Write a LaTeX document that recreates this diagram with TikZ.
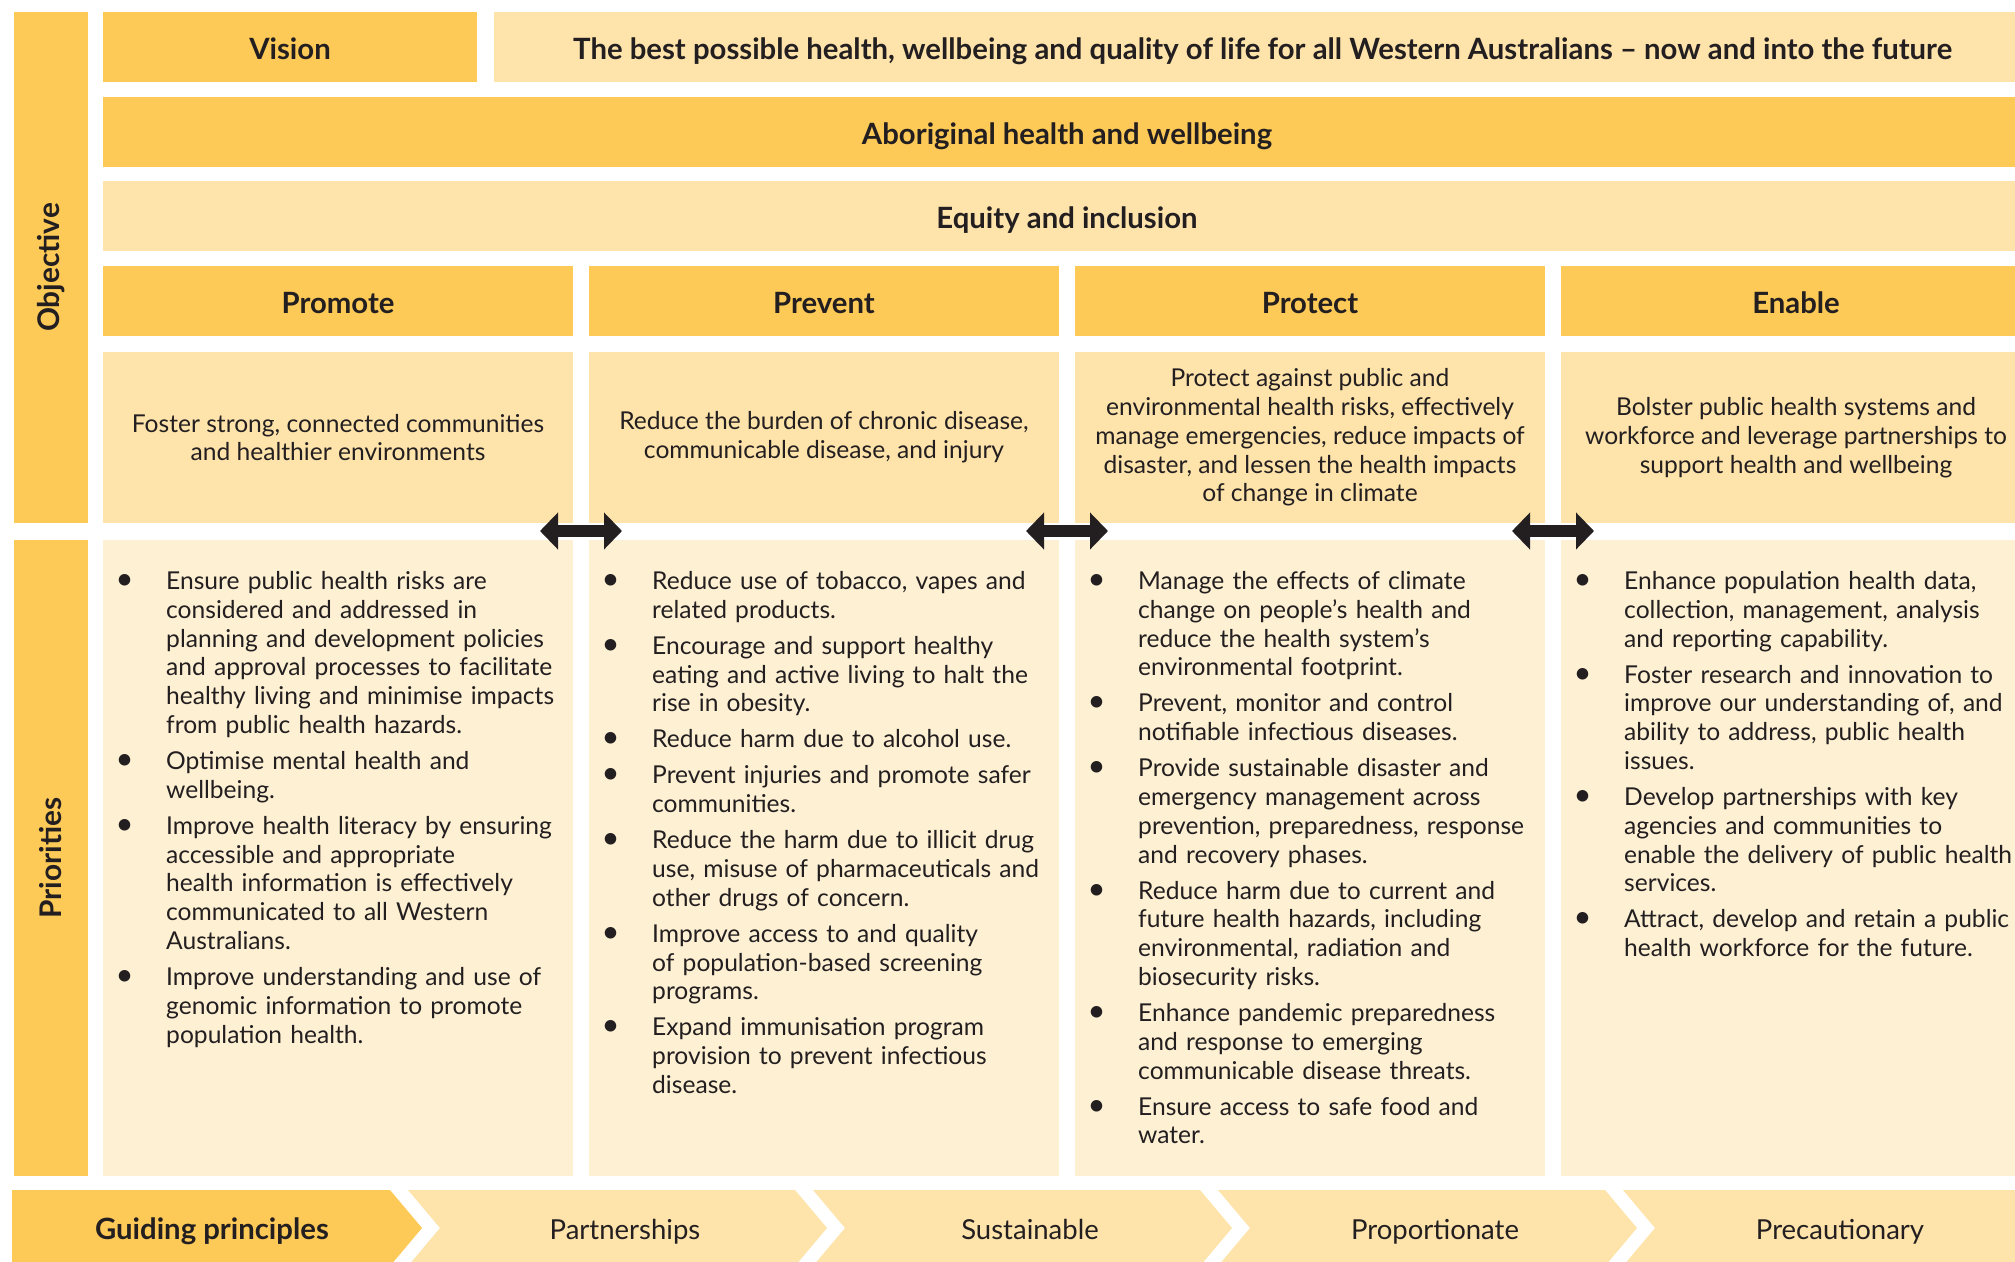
\documentclass[tikz,border=0pt]{standalone}
\usepackage{fontspec}
\setmainfont{Lato}
\usetikzlibrary{arrows.meta}
\definecolor{dk}{HTML}{FDC957}
\definecolor{md}{HTML}{FEE3AB}
\definecolor{lt}{HTML}{FEF0D3}
\definecolor{ink}{HTML}{231F20}
\newcommand{\mybul}{\makebox[0pt][c]{\fontsize{31}{31}\selectfont\textbullet}}
\newenvironment{blist}{\begin{list}{\mybul}{%
 \setlength{\leftmargin}{41.5pt}\setlength{\labelwidth}{0pt}\setlength{\labelsep}{41.5pt}%
 \setlength{\itemsep}{7.2pt}\setlength{\parsep}{0pt}\setlength{\topsep}{0pt}%
 \setlength{\partopsep}{0pt}\setlength{\itemindent}{0pt}\setlength{\listparindent}{0pt}}}%
 {\end{list}}
\begin{document}
\begin{tikzpicture}[x=1pt,y=-1pt,
  box/.style={anchor=north west, inner sep=0pt, outer sep=0pt, text=ink},
  dkbox/.style={box, fill=dk},
  mdbox/.style={box, fill=md},
  ltbox/.style={box, fill=lt},
  hfont/.style={font=\bfseries\fontsize{29.3}{34}\selectfont, text height=24pt, text depth=0pt},
  rfont/.style={font=\fontsize{24.6}{28.8}\selectfont},
  head/.style={dkbox, hfont, minimum width=470pt, minimum height=70pt},
  desc/.style={mdbox, rfont, align=center, minimum width=470pt, minimum height=171pt},
  prio/.style={ltbox, minimum width=470pt, minimum height=636pt},
  plist/.style={anchor=north west, inner sep=0pt, text=ink, rfont, text width=460pt, align=left},
  vlab/.style={rotate=90, text=ink, font=\bfseries\fontsize{29.8}{34}\selectfont},
  arr/.style={draw=ink, line width=12pt, {Triangle[length=18pt,width=36pt]}-{Triangle[length=18pt,width=36pt]}},
  chev/.style={text=ink, anchor=base, font=\fontsize{27.5}{32}\selectfont}
]
\useasboundingbox (0,0) rectangle (2015,1261);
\clip (0,0) rectangle (2015,1261);

% left bars
\node[dkbox, minimum width=73.5pt, minimum height=511pt] (objbar) at (14,12) {};
\node[vlab] (objlab) at (objbar.center) {Objective};
\node[dkbox, minimum width=73.5pt, minimum height=636pt] (priobar) at (14,540) {};
\node[vlab] (priolab) at (priobar.center) {Priorities};

% top rows
\node[dkbox, hfont, minimum width=374pt, minimum height=70pt] (vision) at (103,12) {Vision};
\node[mdbox, hfont, minimum width=1537pt, minimum height=70pt] (statement) at (494,12) {The best possible health, wellbeing and quality of life for all Western Australians – now and into the future};
\node[dkbox, hfont, minimum width=1928pt, minimum height=70pt] (abor) at (103,97) {Aboriginal health and wellbeing};
\node[mdbox, hfont, minimum width=1928pt, minimum height=70pt] (equity) at (103,181) {Equity and inclusion};

% headers
\node[head] (hpromote) at (103,266) {Promote};
\node[head] (hprevent) at (589,266) {Prevent};
\node[head] (hprotect) at (1075,266) {Protect};
\node[head] (henable) at (1561,266) {Enable};

% descriptions
\node[desc] (dpromote) at (103,352) {Foster strong, connected communities\\and healthier environments};
\node[desc] (dprevent) at (589,352) {Reduce the burden of chronic disease,\\communicable disease, and injury};
\node[desc] (dprotect) at (1075,352) {Protect against public and\\environmental health risks, effectively\\manage emergencies, reduce impacts of\\disaster, and lessen the health impacts\\of change in climate};
\node[desc] (denable) at (1561,352) {Bolster public health systems and\\workforce and leverage partnerships to\\support health and wellbeing};

% priorities boxes
\node[prio] (ppromote) at (103,540) {};
\node[prio] (pprevent) at (589,540) {};
\node[prio] (pprotect) at (1075,540) {};
\node[prio] (penable) at (1561,540) {};

\node[plist] (lpromote) at (124.5,560.5) {\begin{blist}
\item Ensure public health risks are\\considered and addressed in\\planning and development policies\\and approval processes to facilitate\\healthy living and minimise impacts\\from public health hazards.
\item Optimise mental health and\\wellbeing.
\item Improve health literacy by ensuring\\accessible and appropriate\\health information is effectively\\communicated to all Western\\Australians.
\item Improve understanding and use of\\genomic information to promote\\population health.
\end{blist}};

\node[plist] (lprevent) at (610.5,560.5) {\begin{blist}
\item Reduce use of tobacco, vapes and\\related products.
\item Encourage and support healthy\\eating and active living to halt the\\rise in obesity.
\item Reduce harm due to alcohol use.
\item Prevent injuries and promote safer\\communities.
\item Reduce the harm due to illicit drug\\use, misuse of pharmaceuticals and\\other drugs of concern.
\item Improve access to and quality\\of population-based screening\\programs.
\item Expand immunisation program\\provision to prevent infectious\\disease.
\end{blist}};

\node[plist] (lprotect) at (1096.5,560.5) {\begin{blist}
\item Manage the effects of climate\\change on people’s health and\\reduce the health system’s\\environmental footprint.
\item Prevent, monitor and control\\notifiable infectious diseases.
\item Provide sustainable disaster and\\emergency management across\\prevention, preparedness, response\\and recovery phases.
\item Reduce harm due to current and\\future health hazards, including\\environmental, radiation and\\biosecurity risks.
\item Enhance pandemic preparedness\\and response to emerging\\communicable disease threats.
\item Ensure access to safe food and\\water.
\end{blist}};

\node[plist] (lenable) at (1582.5,560.5) {\begin{blist}
\item Enhance population health data,\\collection, management, analysis\\and reporting capability.
\item Foster research and innovation to\\improve our understanding of, and\\ability to address, public health\\issues.
\item Develop partnerships with key\\agencies and communities to\\enable the delivery of public health\\services.
\item Attract, develop and retain a public\\health workforce for the future.
\end{blist}};

% double arrows between columns
\coordinate (a1l) at (540,531); \coordinate (a1r) at (622,531);
\coordinate (a2l) at (1026,531); \coordinate (a2r) at (1108,531);
\coordinate (a3l) at (1512,531); \coordinate (a3r) at (1594,531);
\draw[arr] (a1l) -- (a1r);
\draw[arr] (a2l) -- (a2r);
\draw[arr] (a3l) -- (a3r);

% guiding principles chevrons
\fill[dk] (12,1190) -- (390,1190) -- (422,1228) -- (390,1266) -- (12,1266) -- cycle;
\fill[md] (408,1190) -- (795,1190) -- (827,1228) -- (795,1266) -- (408,1266) -- (440,1228) -- cycle;
\fill[md] (813,1190) -- (1200,1190) -- (1232,1228) -- (1200,1266) -- (813,1266) -- (845,1228) -- cycle;
\fill[md] (1218,1190) -- (1605,1190) -- (1637,1228) -- (1605,1266) -- (1218,1266) -- (1250,1228) -- cycle;
\fill[md] (1623,1190) -- (2031,1190) -- (2031,1266) -- (1623,1266) -- (1655,1228) -- cycle;
\node[chev, font=\bfseries\fontsize{29.3}{34}\selectfont] (guiding) at (212,1239) {Guiding principles};
\node[chev] (partner) at (625,1239) {Partnerships};
\node[chev] (sustain) at (1030,1239) {Sustainable};
\node[chev] (proport) at (1435,1239) {Proportionate};
\node[chev] (precaut) at (1840,1239) {Precautionary};
\end{tikzpicture}
\end{document}
